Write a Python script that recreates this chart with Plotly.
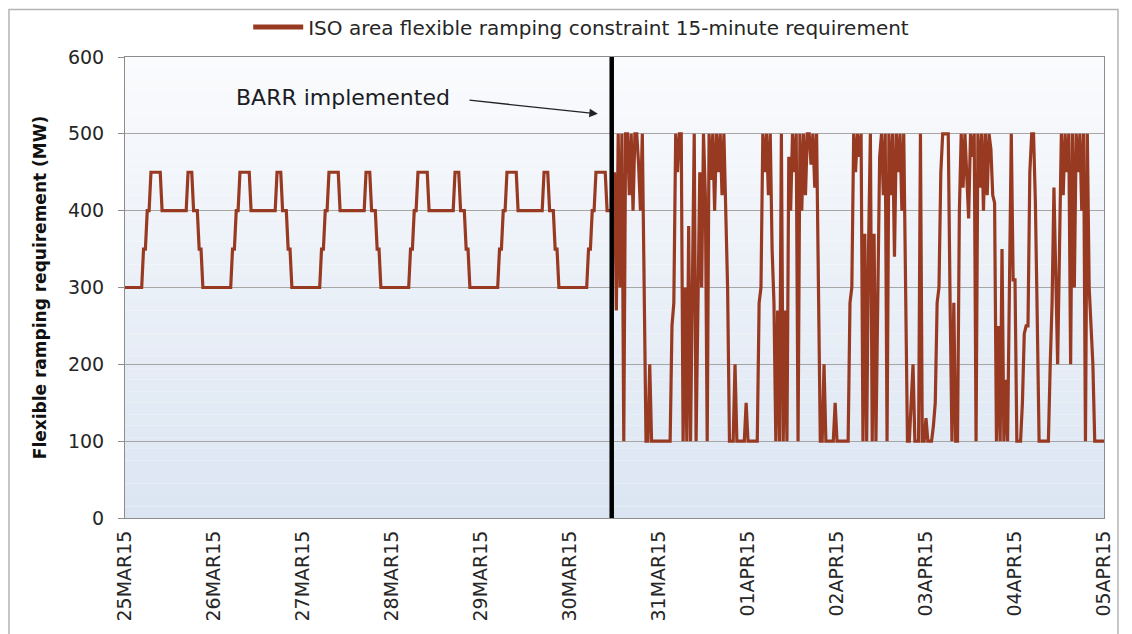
import pandas as pd
import plotly.graph_objects as go

# ---------------- data ----------------
series_name = "ISO area flexible ramping constraint 15-minute requirement"
y_title = "Flexible ramping requirement (MW)"
barr_label = "BARR implemented"
barr_time = "2015-03-30 11:15"

tick_dates = ["2015-03-25", "2015-03-26", "2015-03-27", "2015-03-28", "2015-03-29", "2015-03-30",
              "2015-03-31", "2015-04-01", "2015-04-02", "2015-04-03", "2015-04-04", "2015-04-05"]
tick_labels = ["25MAR15", "26MAR15", "27MAR15", "28MAR15", "29MAR15", "30MAR15",
               "31MAR15", "01APR15", "02APR15", "03APR15", "04APR15", "05APR15"]

# half-hourly values before BARR (25MAR15 00:00 .. 30MAR15 11:30)
mar25 = [300, 300, 300, 300, 300, 300, 300, 300, 300, 300, 350, 350, 400, 400, 450, 450,
         450, 450, 450, 450, 400, 400, 400, 400, 400, 400, 400, 400, 400, 400, 400, 400,
         400, 400, 450, 450, 450, 400, 400, 400, 350, 350, 300, 300, 300, 300, 300, 300]
mar26 = [300, 300, 300, 300, 300, 300, 300, 300, 300, 300, 350, 350, 400, 400, 450, 450,
         450, 450, 450, 450, 400, 400, 400, 400, 400, 400, 400, 400, 400, 400, 400, 400,
         400, 400, 450, 450, 450, 400, 400, 400, 350, 350, 300, 300, 300, 300, 300, 300]
mar27 = [300, 300, 300, 300, 300, 300, 300, 300, 300, 300, 350, 350, 400, 400, 450, 450,
         450, 450, 450, 450, 400, 400, 400, 400, 400, 400, 400, 400, 400, 400, 400, 400,
         400, 400, 450, 450, 450, 400, 400, 400, 350, 350, 300, 300, 300, 300, 300, 300]
mar28 = [300, 300, 300, 300, 300, 300, 300, 300, 300, 300, 350, 350, 400, 400, 450, 450,
         450, 450, 450, 450, 400, 400, 400, 400, 400, 400, 400, 400, 400, 400, 400, 400,
         400, 400, 450, 450, 450, 400, 400, 400, 350, 350, 300, 300, 300, 300, 300, 300]
mar29 = [300, 300, 300, 300, 300, 300, 300, 300, 300, 300, 350, 350, 400, 400, 450, 450,
         450, 450, 450, 450, 400, 400, 400, 400, 400, 400, 400, 400, 400, 400, 400, 400,
         400, 400, 450, 450, 450, 400, 400, 400, 350, 350, 300, 300, 300, 300, 300, 300]
mar30_am = [300, 300, 300, 300, 300, 300, 300, 300, 300, 300, 350, 350, 400, 400, 450, 450,
            450, 450, 450, 450, 400, 400, 400, 400]

# half-hourly values after BARR (30MAR15 12:00 .. 05APR15 00:00)
post_barr = [
    450, 270, 500, 300, 500, 100, 500, 500, 420, 500,
    400, 500, 500, 460, 400, 500, 300, 100, 100, 200,
    100, 100, 100, 100, 100, 100, 100, 100, 100, 100,
    100, 250, 280, 500, 450, 500, 500, 100, 300, 100,
    380, 100, 330, 500, 100, 250, 450, 300, 500, 420,
    100, 500, 440, 500, 400, 500, 450, 500, 420, 500,
    400, 300, 100, 100, 100, 200, 100, 100, 100, 100,
    100, 150, 100, 100, 100, 100, 100, 100, 280, 300,
    500, 450, 500, 420, 500, 350, 280, 100, 270, 100,
    500, 100, 270, 100, 470, 400, 500, 450, 500, 100,
    500, 400, 500, 420, 500, 500, 460, 500, 430, 500,
    300, 100, 100, 200, 100, 100, 100, 100, 100, 150,
    100, 100, 100, 100, 100, 100, 100, 280, 300, 500,
    450, 500, 470, 500, 100, 370, 100, 350, 500, 100,
    370, 100, 300, 470, 500, 420, 500, 100, 500, 420,
    500, 340, 500, 450, 500, 400, 500, 300, 100, 100,
    150, 200, 100, 100, 100, 500, 100, 100, 130, 100,
    100, 100, 120, 150, 280, 300, 450, 500, 500, 500,
    500, 280, 100, 280, 100, 100, 400, 500, 430, 500,
    450, 390, 500, 470, 500, 100, 500, 430, 500, 400,
    500, 420, 500, 480, 420, 410, 100, 250, 100, 350,
    100, 180, 100, 300, 500, 310, 310, 100, 100, 100,
    150, 240, 250, 250, 450, 500, 500, 410, 260, 100,
    100, 100, 100, 100, 100, 200, 280, 430, 300, 200,
    350, 500, 420, 500, 450, 500, 200, 500, 300, 500,
    450, 500, 400, 500, 100, 500, 300, 250, 200, 100,
    100, 100, 100, 100, 100,
]

# ---------------- build ----------------
pre_vals = mar25 + mar26 + mar27 + mar28 + mar29 + mar30_am
pre_x = pd.date_range("2015-03-25 00:00", periods=len(pre_vals), freq="30min")
post_x = pd.date_range("2015-03-30 12:00", periods=len(post_barr), freq="30min")
x_all = list(pre_x) + list(post_x)
y_all = pre_vals + post_barr

LINE = "#983A22"
FONT = "DejaVu Sans"
TXT = "#262626"

fig = go.Figure()
fig.add_trace(go.Scatter(x=x_all, y=y_all, mode="lines",
                         line=dict(color=LINE, width=3.2), showlegend=False,
                         hoverinfo="skip"))
fig.add_trace(go.Scatter(x=[None], y=[None], mode="lines", name=series_name,
                         line=dict(color=LINE, width=5)))

# gradient plot background
N = 40
top = (250, 251, 253)
bot = (219, 229, 242)
for i in range(N):
    t = (i + 0.5) / N
    c = tuple(round(bot[k] + (top[k] - bot[k]) * t) for k in range(3))
    fig.add_shape(type="rect", xref="x domain", yref="y domain",
                  x0=0, x1=1, y0=i / N, y1=(i + 1) / N,
                  fillcolor="rgb(%d,%d,%d)" % c, line=dict(width=0), layer="below")

# BARR vertical line
fig.add_shape(type="line", xref="x", yref="y", x0=barr_time, x1=barr_time, y0=0, y1=600,
              line=dict(color="black", width=4.5), layer="above")

# outer frame
fig.add_shape(type="rect", xref="paper", yref="paper", x0=-0.1185, x1=1.0143, y0=-0.4, y1=1.103,
              line=dict(color="#b4b4b4", width=1.5), fillcolor="rgba(0,0,0,0)", layer="above")

fig.add_annotation(x="2015-03-27 10:45", y=547, xref="x", yref="y", text=barr_label,
                   showarrow=False, font=dict(family=FONT, size=22, color="#1c1c24"))
fig.add_annotation(x="2015-03-30 07:30", y=526, xref="x", yref="y",
                   ax="2015-03-28 20:30", ay=544, axref="x", ayref="y", text="",
                   showarrow=True, arrowhead=2, arrowsize=1.3, arrowwidth=1.3, arrowcolor="#222")

# page body has an 8px margin: figure is sized/offset so the plot lands where the reference has it
fig.update_layout(
    width=1124, height=626,
    margin=dict(l=117, r=28, t=49, b=116, autoexpand=False),
    paper_bgcolor="white", plot_bgcolor="rgba(0,0,0,0)",
    font=dict(family=FONT, size=19, color=TXT),
    showlegend=True,
    legend=dict(orientation="h", x=0.466, xanchor="center", y=1.065, yanchor="middle",
                font=dict(family=FONT, size=20, color=TXT), itemwidth=50,
                bgcolor="rgba(0,0,0,0)"),
)
fig.update_xaxes(type="date", range=["2015-03-25", "2015-04-05"], automargin=False,
                 tickvals=tick_dates, ticktext=tick_labels, tickangle=-90,
                 showgrid=False, showline=True, linecolor="#8c8c8c", linewidth=1, mirror=True,
                 ticks="", ticklabelstandoff=4,
                 tickfont=dict(family=FONT, size=19, color=TXT), zeroline=False)
fig.update_yaxes(range=[0, 600], dtick=100, showgrid=True, gridcolor="#a6a6a6", gridwidth=1,
                 automargin=False,
                 showline=True, linecolor="#8c8c8c", linewidth=1, mirror=True,
                 ticks="outside", ticklen=6, tickcolor="#8c8c8c",
                 ticklabelstandoff=10,
                 tickfont=dict(family=FONT, size=19, color=TXT), zeroline=False,
                 title=dict(text="<b>%s</b>" % y_title, standoff=16,
                            font=dict(family=FONT, size=17, color="#111")))

fig.write_html("out.html")
